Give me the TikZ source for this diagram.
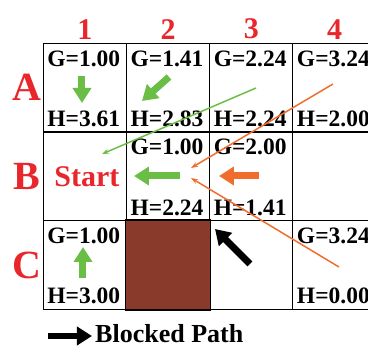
\documentclass[tikz,border=0pt]{standalone}
\usepackage{fontspec}
\setmainfont{Liberation Serif}
\usetikzlibrary{arrows.meta,calc}
\definecolor{labelred}{RGB}{232,38,43}
\definecolor{pathgreen}{RGB}{106,190,69}
\definecolor{pathorange}{RGB}{240,110,45}
\definecolor{wallbrown}{RGB}{137,58,42}

\begin{document}
\begin{tikzpicture}[x=1pt, y=-1pt,
    cell/.style={draw, line width=1.2pt, minimum width=83.2pt, minimum height=88.7pt, inner sep=0pt},
    cost/.style={anchor=base west, inner sep=0pt, font=\fontsize{23.5}{24}\selectfont\bfseries},
    axislabel/.style={text=labelred, inner sep=0pt, font=\fontsize{30}{30}\selectfont\bfseries},
    bigarrow/.style={line width=7pt, -{Triangle[width=18pt,length=15pt]}},
    thinarrow/.style={line width=1.5pt, -{Stealth[length=7pt,width=5pt]}}]
  \useasboundingbox (0,0) rectangle (368,348);
  \clip (0,0) rectangle (368,348);

  % grid
  \foreach \r [count=\i from 0] in {A,B,C}
    \foreach \c in {1,...,4}
      \node[cell] (\r\c) at ({43.3+83.2*(\c-0.5)}, {43.3+88.7*(\i+0.5)}) {};
  \fill[wallbrown] (C2.north west) rectangle (C2.south east);
  \draw[line width=1.2pt] (C2.north west) rectangle (C2.south east);

  % row and column labels
  \foreach \c in {1,...,4}
    \node[axislabel] (col\c) at ($(A\c.north)+(0,-13.5)$) {\c};
  \foreach \r in {A,B,C}
    \node[axislabel, font=\fontsize{40}{40}\selectfont\bfseries] (row\r) at ($(\r1.west)+(-16,0)$) {\r};

  % costs
  \foreach \cl/\g/\h in {A1/1.00/3.61, A2/1.41/2.83, A3/2.24/2.24, A4/3.24/2.00,
                         B2/1.00/2.24, B3/2.00/1.41, C1/1.00/3.00, C4/3.24/0.00} {
    \node[cost] (g\cl) at ($(\cl.north west)+(4.5,23.5)$) {G=\g};
    \node[cost] (h\cl) at ($(\cl.south west)+(4.5,-6)$) {H=\h};
  }
  \node[text=labelred, font=\fontsize{30}{30}\selectfont\bfseries, inner sep=0pt] (start) at ($(B1)+(2,0)$) {Start};

  % cell arrows
  \coordinate (A1from) at (82,76);   \coordinate (A1to) at (82,103);
  \coordinate (A2from) at (169,77);  \coordinate (A2to) at (142,101);
  \coordinate (B2from) at (180,176); \coordinate (B2to) at (134,176);
  \coordinate (B3from) at (259,176); \coordinate (B3to) at (219,176);
  \coordinate (C1from) at (83,278);  \coordinate (C1to) at (83,247);
  \coordinate (C3from) at (250,264); \coordinate (C3to) at (215,229);
  \draw[bigarrow, pathgreen] (A1from) -- (A1to);
  \draw[bigarrow, pathgreen] (A2from) -- (A2to);
  \draw[bigarrow, pathgreen] (B2from) -- (B2to);
  \draw[bigarrow, pathorange] (B3from) -- (B3to);
  \draw[bigarrow, pathgreen] (C1from) -- (C1to);
  \draw[bigarrow, black] (C3from) -- (C3to);

  % search lines
  \coordinate (greenfrom) at (256,88);   \coordinate (greento) at (102,154);
  \coordinate (orangeup) at (333,84);    \coordinate (orangeupto) at (191,168);
  \coordinate (orangelow) at (339,267);  \coordinate (orangelowto) at (191,178);
  \draw[thinarrow, pathgreen] (greenfrom) -- (greento);
  \draw[thinarrow, pathorange] (orangeup) -- (orangeupto);
  \draw[thinarrow, pathorange] (orangelow) -- (orangelowto);

  % legend
  \coordinate (keyfrom) at (48,336); \coordinate (keyto) at (92,336);
  \draw[bigarrow, black, line width=6pt] (keyfrom) -- (keyto);
  \node[anchor=base west, inner sep=0pt, font=\fontsize{26}{26}\selectfont\bfseries] (key) at ($(keyto)+(3,7)$) {Blocked Path};
\end{tikzpicture}
\end{document}
